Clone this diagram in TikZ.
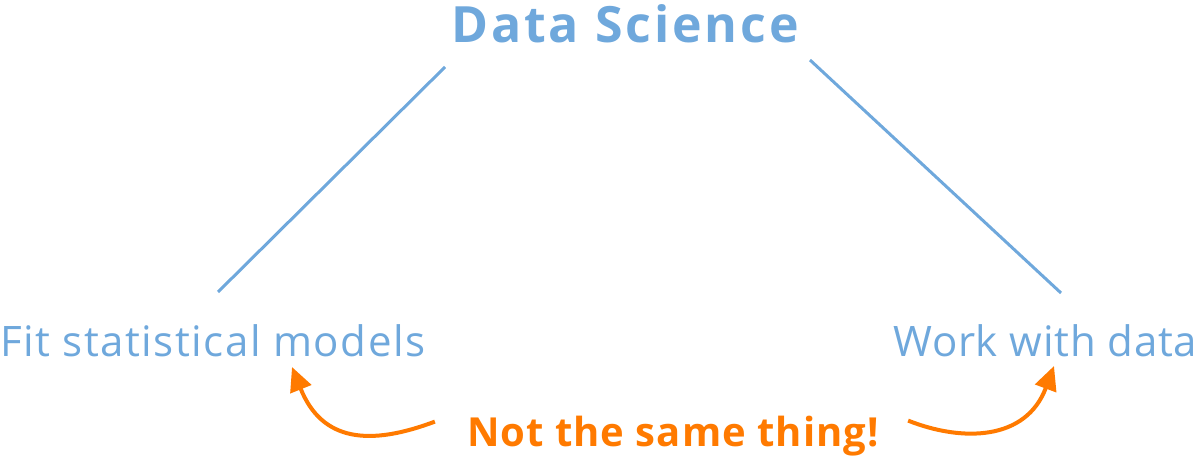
\documentclass[tikz,border=0pt]{standalone}
\usepackage{fontspec}
\setmainfont{Open Sans}
\usetikzlibrary{arrows.meta}
\definecolor{dsblue}{RGB}{111,168,220}
\definecolor{dsorange}{RGB}{255,122,0}
\begin{document}
\begin{tikzpicture}[x=1bp,y=-1bp,every
	node/.style={inner sep=0pt,text=dsblue},
	lbl/.style={anchor=base west,font=\fontsize{42bp}{50bp}\selectfont\addfontfeatures{LetterSpace=#1}},
	arr/.style={dsorange,line width=4bp,-{Triangle[length=24bp,width=22bp]}}]
      \useasboundingbox (0,0) rectangle (1200,458);
      \node [anchor=base,font=\fontsize{50bp}{60bp}\selectfont\bfseries\addfontfeatures{LetterSpace=5.8}] (ds) at (625,43) {Data Science};
      \node [lbl=3.6] (fit) at (0,357) {Fit statistical models};
      \node [lbl=1.8] (work) at (893,357) {Work with data};
      \node [anchor=base,text=dsorange,font=\fontsize{40bp}{48bp}\selectfont\bfseries\addfontfeatures{LetterSpace=2.6}] (note) at (673,447) {Not the same thing!};

      \coordinate (dsL) at (445,67);
      \coordinate (dsR) at (810,60);
      \coordinate (fitT) at (218,292);
      \coordinate (workT) at (1061,293);
      \coordinate (fitA) at (292,367);
      \coordinate (workA) at (1054,366);

      \draw [dsblue,line width=3bp] (dsL) -- (fitT);
      \draw [dsblue,line width=3bp] (dsR) -- (workT);
      \draw [arr] (note.west) ++(-32,-15) .. controls (370,446) and (322,442) .. (fitA);
      \draw [arr] (note.east) ++(29,-16) .. controls (962,442) and (1026,441) .. (workA);
    \end{tikzpicture}
\end{document}
